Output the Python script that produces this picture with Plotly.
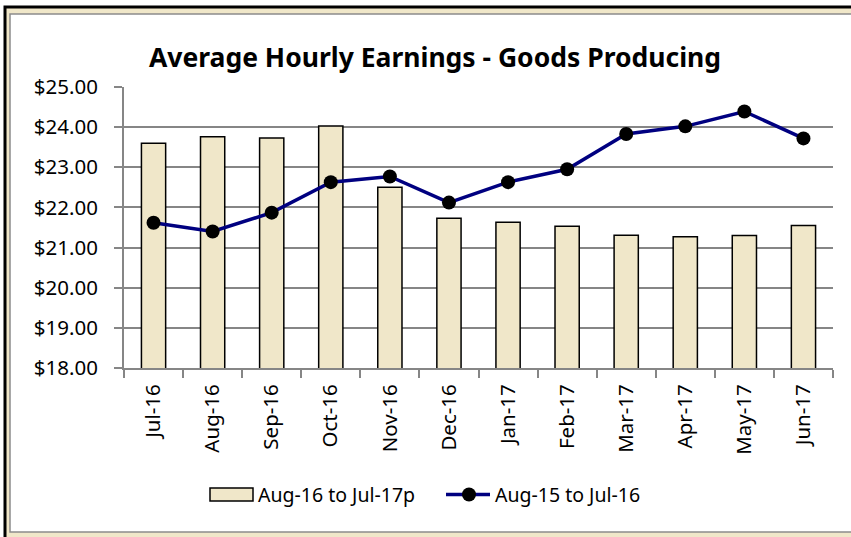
import plotly.graph_objects as go

months = ["Jul-16", "Aug-16", "Sep-16", "Oct-16", "Nov-16", "Dec-16",
          "Jan-17", "Feb-17", "Mar-17", "Apr-17", "May-17", "Jun-17"]
current = [23.60, 23.76, 23.73, 24.03, 22.50, 21.73, 21.63, 21.53, 21.31, 21.27, 21.30, 21.55]
prior = [21.62, 21.40, 21.87, 22.63, 22.77, 22.12, 22.63, 22.95, 23.83, 24.02, 24.39, 23.72]
y_ticks = [18, 19, 20, 21, 22, 23, 24, 25]
y_labels = [f"${v:.2f}" for v in y_ticks]
series_names = ["Aug-16 to Jul-17p", "Aug-15 to Jul-16"]

W, H = 851, 537
L, R, T, B = 124, 18, 87, 169
pw, ph = W - L - R, H - T - B

def px(x):
    return (x - L) / pw

def py(y):
    return (H - B - y) / ph

FONT = "Noto Sans"
GRID = "#868686"
BEIGE = "#F0E7C9"
NAVY = "#000080"

fig = go.Figure()
fig.add_trace(go.Bar(
    x=months, y=current, name=series_names[0],
    marker=dict(color=BEIGE, line=dict(color="black", width=1.5)),
    width=0.41, showlegend=False,
))
fig.add_trace(go.Scatter(
    x=months, y=prior, name=series_names[1], mode="lines+markers",
    line=dict(color=NAVY, width=3.5),
    marker=dict(color="black", size=14),
    showlegend=False,
))

shapes = [
    # outer frame
    dict(type="rect", xref="paper", yref="paper", x0=px(5), x1=px(870), y0=py(560), y1=py(7),
         fillcolor=BEIGE, line=dict(width=0), layer="below"),
    dict(type="rect", xref="paper", yref="paper", x0=px(10), x1=px(865), y0=py(532), y1=py(14),
         fillcolor="white", line=dict(color="#8C8C8C", width=1.5), layer="below"),
    dict(type="path", xref="paper", yref="paper",
         path=f"M{px(5)},{py(560)} L{px(5)},{py(7)} L{px(870)},{py(7)}",
         line=dict(color="black", width=3), layer="below"),
    # legend swatches
    dict(type="rect", xref="paper", yref="paper", x0=px(210), x1=px(253), y0=py(501), y1=py(488),
         fillcolor=BEIGE, line=dict(color="black", width=1.5)),
    dict(type="line", xref="paper", yref="paper", x0=px(446), x1=px(490), y0=py(494.5), y1=py(494.5),
         line=dict(color=NAVY, width=3.5)),
    dict(type="circle", xref="paper", yref="paper", x0=px(462), x1=px(476), y0=py(501.5), y1=py(487.5),
         fillcolor="black", line=dict(color="black", width=0)),
]

annotations = [
    dict(text=series_names[0], xref="paper", yref="paper", x=px(256), y=py(494),
         xanchor="left", yanchor="middle", showarrow=False, font=dict(family=FONT, size=19.5)),
    dict(text=series_names[1], xref="paper", yref="paper", x=px(493), y=py(494),
         xanchor="left", yanchor="middle", showarrow=False, font=dict(family=FONT, size=19.5)),
]

fig.update_layout(
    template="none",
    width=W, height=H, autosize=False,
    margin=dict(l=L, r=R, t=T, b=B, pad=0, autoexpand=False),
    paper_bgcolor="white", plot_bgcolor="rgba(0,0,0,0)",
    font=dict(family=FONT, color="black", size=20),
    title=dict(text="<b>Average Hourly Earnings - Goods Producing</b>",
               x=435 / W, xanchor="center", y=1 - 58 / H, yanchor="middle",
               font=dict(family=FONT, size=26.5, color="black")),
    shapes=shapes,
    annotations=annotations,
    showlegend=False,
    xaxis=dict(
        type="category", range=[-0.5, len(months) - 0.5], automargin=False,
        tickangle=-90, ticks="outside", tickson="boundaries",
        ticklen=8, tickwidth=2, tickcolor=GRID, ticklabelstandoff=6,
        showline=True, linecolor=GRID, linewidth=2,
        showgrid=False, zeroline=False, tickfont=dict(family=FONT, size=20.5),
    ),
    yaxis=dict(
        range=[18, 25], tickvals=y_ticks, ticktext=y_labels, automargin=False,
        ticks="outside", ticklen=8, tickwidth=2, tickcolor=GRID, ticklabelstandoff=12,
        showline=True, linecolor=GRID, linewidth=2,
        showgrid=True, gridcolor=GRID, gridwidth=2, zeroline=False,
        tickfont=dict(family=FONT, size=20.5),
    ),
)

fig.write_html("out.html", config={"displayModeBar": False},
               post_script="document.body.style.margin='0';")
